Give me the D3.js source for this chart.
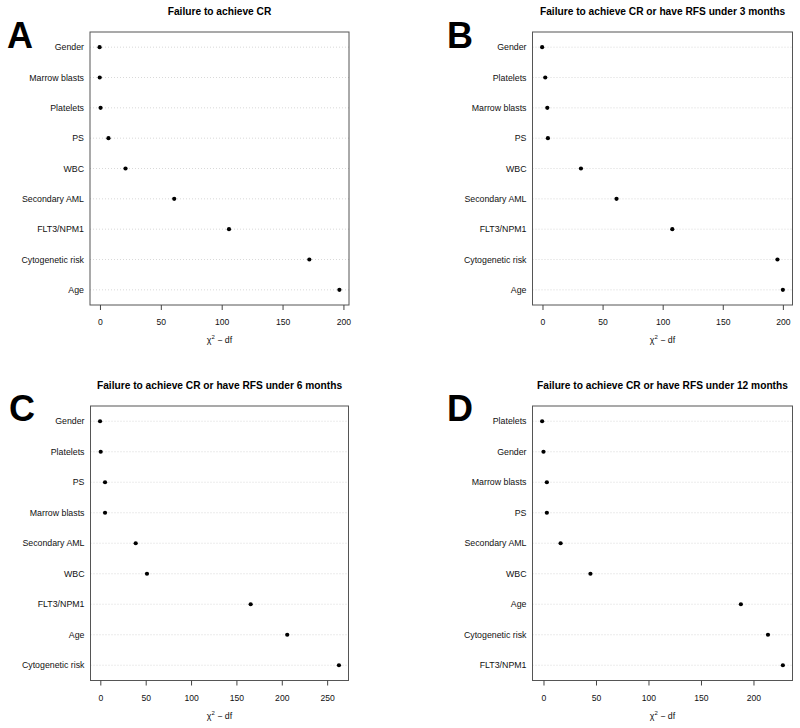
<!DOCTYPE html>
<html>
<head>
<meta charset="utf-8">
<script src="https://cdn.jsdelivr.net/npm/d3@7"></script>
<style>
  body { margin: 0; background: #fff; }
  text { font-family: "Liberation Sans", Arial, Helvetica, sans-serif; }
</style>
</head>
<body>
<svg id="vis"></svg>
<script>
const plotWidth = 800;
const plotHeight = 728;
const svg = d3.select('#vis')
            .attr('width', plotWidth)
            .attr('height', plotHeight);

// panel A
const labelsA = ['Gender', 'Marrow blasts', 'Platelets', 'PS', 'WBC', 'Secondary AML', 'FLT3/NPM1', 'Cytogenetic risk', 'Age'];
const valuesA = [-0.3, -0.2, 0.5, 7, 21, 61, 106, 172, 196.7];
const ticksA = [0, 50, 100, 150, 200];

// panel B
const labelsB = ['Gender', 'Platelets', 'Marrow blasts', 'PS', 'WBC', 'Secondary AML', 'FLT3/NPM1', 'Cytogenetic risk', 'Age'];
const valuesB = [-0.3, 2.3, 4, 4.5, 32, 61.6, 108, 195.5, 200];
const ticksB = [0, 50, 100, 150, 200];

// panel C
const labelsC = ['Gender', 'Platelets', 'PS', 'Marrow blasts', 'Secondary AML', 'WBC', 'FLT3/NPM1', 'Age', 'Cytogenetic risk'];
const valuesC = [-0.3, 0.4, 5.2, 5.2, 39, 51.4, 165.7, 206, 263];
const ticksC = [0, 50, 100, 150, 200, 250];

// panel D
const labelsD = ['Platelets', 'Gender', 'Marrow blasts', 'PS', 'Secondary AML', 'WBC', 'Age', 'Cytogenetic risk', 'FLT3/NPM1'];
const valuesD = [-1.3, 0, 3.2, 3.2, 16.3, 44.7, 188, 213.8, 228];
const ticksD = [0, 50, 100, 150, 200];

const titles = [
    'Failure to achieve CR',
    'Failure to achieve CR or have RFS under 3 months',
    'Failure to achieve CR or have RFS under 6 months',
    'Failure to achieve CR or have RFS under 12 months'
];
const letters = ['A', 'B', 'C', 'D'];


function main() {
    svg.append('rect').attr('width', plotWidth).attr('height', plotHeight).attr('fill', '#fff');

    drawPanel({labels: labelsA, values: valuesA, ticks: ticksA, title: titles[0], letter: letters[0],
               left: 90, right: 349, top: 32, bottom: 305, letterX: 7, letterY: 48});
    drawPanel({labels: labelsB, values: valuesB, ticks: ticksB, title: titles[1], letter: letters[1],
               left: 532.5, right: 792.5, top: 32, bottom: 305, letterX: 447, letterY: 47.5});
    drawPanel({labels: labelsC, values: valuesC, ticks: ticksC, title: titles[2], letter: letters[2],
               left: 90.5, right: 348.5, top: 406, bottom: 680.5, letterX: 9, letterY: 420.5});
    drawPanel({labels: labelsD, values: valuesD, ticks: ticksD, title: titles[3], letter: letters[3],
               left: 532.5, right: 792.5, top: 406, bottom: 680.5, letterX: 447, letterY: 420.5});
}


function drawPanel(p) {
    const g = svg.append('g');

    // R-style 4% padding around the data range
    const lo = d3.min(p.values), hi = d3.max(p.values);
    const pad = (hi - lo) * 0.04;
    const x = d3.scaleLinear()
                .domain([lo - pad, hi + pad])
                .range([p.left, p.right]);
    const y = d3.scalePoint()
                .domain(p.labels)
                .range([p.top, p.bottom])
                .padding(0.5);

    // dotted guide lines
    g.selectAll('.guide').data(p.labels).enter()
        .append('line')
        .attr('x1', p.left)
        .attr('x2', p.right)
        .attr('y1', d => y(d))
        .attr('y2', d => y(d))
        .attr('stroke', '#cfcfcf')
        .attr('stroke-width', 0.8)
        .attr('stroke-dasharray', '1,2');

    // row labels
    g.selectAll('.lab').data(p.labels).enter()
        .append('text')
        .attr('x', p.left - 6)
        .attr('y', d => y(d))
        .attr('dy', '0.35em')
        .attr('text-anchor', 'end')
        .attr('font-size', 8.8)
        .attr('fill', '#111')
        .text(d => d);

    // points
    g.selectAll('.pt').data(p.values).enter()
        .append('circle')
        .attr('cx', d => x(d))
        .attr('cy', (d, i) => y(p.labels[i]))
        .attr('r', 2.1)
        .attr('fill', '#000');

    // box
    g.append('rect')
        .attr('x', p.left)
        .attr('y', p.top)
        .attr('width', p.right - p.left)
        .attr('height', p.bottom - p.top)
        .attr('fill', 'none')
        .attr('stroke', '#555')
        .attr('stroke-width', 1);

    // x axis
    const axis = g.append('g')
        .attr('transform', `translate(0,${p.bottom})`)
        .call(d3.axisBottom(x).tickValues(p.ticks).tickFormat(d3.format('d'))
                .tickSize(5).tickSizeOuter(0).tickPadding(9));
    axis.select('.domain').remove();
    axis.selectAll('line').attr('stroke', '#444');
    axis.selectAll('text')
        .attr('font-size', 8.6)
        .attr('fill', '#111')
        .style('font-family', '"Liberation Sans", Arial, sans-serif');

    // x label: chi^2 - df
    const xl = g.append('text')
        .attr('x', (p.left + p.right) / 2)
        .attr('y', p.bottom + 38)
        .attr('text-anchor', 'middle')
        .attr('font-size', 8.8)
        .attr('fill', '#111');
    xl.append('tspan').text('\u03c7');
    xl.append('tspan').attr('dy', -4).attr('font-size', 6).text('2');
    xl.append('tspan').attr('dy', 4).text(' \u2212 df');

    // title
    g.append('text')
        .attr('x', (p.left + p.right) / 2)
        .attr('y', p.top - 17)
        .attr('text-anchor', 'middle')
        .attr('font-size', 10.2)
        .attr('font-weight', 'bold')
        .attr('fill', '#000')
        .text(p.title);

    // panel letter
    g.append('text')
        .attr('x', p.letterX)
        .attr('y', p.letterY)
        .attr('font-size', 36)
        .attr('font-weight', 'bold')
        .attr('fill', '#000')
        .text(p.letter);
}


main()
</script>
</body>
</html>
